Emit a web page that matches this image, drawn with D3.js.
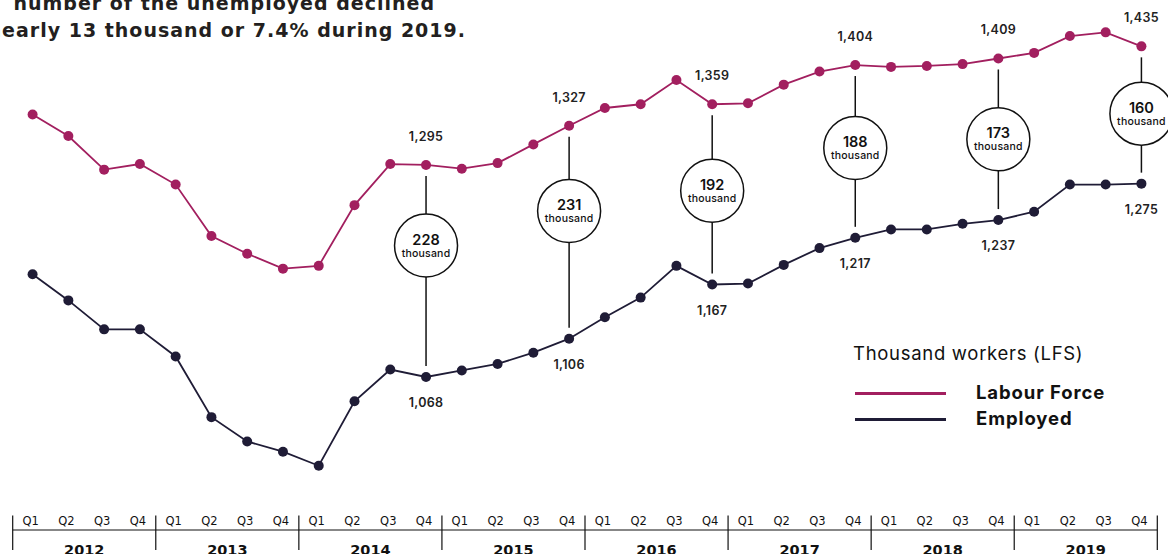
<!DOCTYPE html>
<html>
<head>
<meta charset="utf-8">
<script src="https://cdn.jsdelivr.net/npm/d3@7"></script>
<style>
body { margin: 0; background: #fff; }
svg { display: block; font-family: Inter, "DejaVu Sans", sans-serif; }
</style>
</head>
<body>
<svg id="main" width="1168" height="554"></svg>
<script>
var years = ["2012", "2013", "2014", "2015", "2016", "2017", "2018", "2019"];
var quarterNames = ["Q1", "Q2", "Q3", "Q4"];
// thousand workers
var labourForce = [1349, 1326, 1290, 1296, 1274, 1219, 1200, 1184,
	1187, 1252, 1296, 1295, 1291, 1297, 1317, 1337,
	1356, 1360, 1386, 1360, 1361, 1381, 1395, 1402,
	1400, 1401, 1403, 1409, 1415, 1433, 1437, 1422];
var employed = [1178, 1150, 1119, 1119, 1090, 1025, 999, 988,
	973, 1042, 1076, 1068, 1075, 1082, 1094, 1109,
	1132, 1153, 1187, 1167, 1168, 1188, 1206, 1217,
	1226, 1226, 1232, 1236, 1245, 1274, 1274, 1275];
var gapIndex = [11, 15, 19, 23, 27, 31];
var gapText = ["228", "231", "192", "188", "173", "160"];
var lfLabels = ["1,295", "1,327", "1,359", "1,404", "1,409", "1,435"];
var empLabels = ["1,068", "1,106", "1,167", "1,217", "1,237", "1,275"];
var bubblePos = [0.38, 0.4, 0.48, 0.48, 0.5, 0.49];

var lfColor = "#A21F5F";
var empColor = "#1F1C36";

var quarters = [];
years.forEach(function(y) {
	quarterNames.forEach(function(q) { quarters.push(y + " " + q); });
});

var svg = d3.select("#main");

var xYear = d3.scaleBand().domain(years).range([12.7, 1157.3]);
var x = d3.scaleBand().domain(quarters).range([12.7, 1157.3]);
var y = d3.scaleLinear().domain([1000, 1450]).range([440.5, 20.2]);
function px(i) { return x(quarters[i]) + x.bandwidth() / 2 + 2; }

// title (cut off at the top-left like the source)
var title = svg.append("g").attr("font-family", "'DejaVu Sans', sans-serif").attr("font-weight", "700")
	.attr("font-size", "19px").attr("letter-spacing", "1px").attr("fill", "#231F20").attr("text-anchor", "end");
title.append("text").attr("x", 435).attr("y", 10).text("number of the unemployed declined");
title.append("text").attr("x", 466).attr("y", 37).text("nearly 13 thousand or 7.4% during 2019.");

// gap annotations
var ann = svg.append("g");
gapIndex.forEach(function(idx, k) {
	var cx = px(idx);
	var yt = y(labourForce[idx]), yb = y(employed[idx]);
	var cy = yt + (yb - yt) * bubblePos[k];
	ann.append("line").attr("x1", cx).attr("x2", cx).attr("y1", yt + 11).attr("y2", yb - 11)
		.attr("stroke", "#111").attr("stroke-width", 1.5);
	ann.append("circle").attr("cx", cx).attr("cy", cy).attr("r", 31.5)
		.attr("fill", "#fff").attr("stroke", "#111").attr("stroke-width", 1.5);
	ann.append("text").attr("x", cx).attr("y", cy - 1).attr("text-anchor", "middle")
		.attr("font-size", "14.5px").attr("font-weight", "600").attr("fill", "#111").text(gapText[k]);
	ann.append("text").attr("x", cx).attr("y", cy + 11).attr("text-anchor", "middle")
		.attr("font-size", "10.5px").attr("font-weight", "500").attr("letter-spacing", "0.2px").attr("fill", "#111").text("thousand");
	ann.append("text").attr("x", cx).attr("y", yt - 24).attr("text-anchor", "middle")
		.attr("font-size", "12.5px").attr("font-weight", "600").attr("letter-spacing", "0.3px").attr("fill", "#222").text(lfLabels[k]);
	ann.append("text").attr("x", cx).attr("y", yb + 30).attr("text-anchor", "middle")
		.attr("font-size", "12.5px").attr("font-weight", "600").attr("letter-spacing", "0.3px").attr("fill", "#222").text(empLabels[k]);
});

// series
var line = d3.line().x(function(d, i) { return px(i); }).y(function(d) { return y(d); });
[[labourForce, lfColor], [employed, empColor]].forEach(function(s) {
	var g = svg.append("g");
	g.append("path").datum(s[0]).attr("d", line).attr("fill", "none").attr("stroke", s[1]).attr("stroke-width", 1.8);
	g.selectAll("circle").data(s[0]).join("circle")
		.attr("cx", function(d, i) { return px(i); })
		.attr("cy", function(d) { return y(d); })
		.attr("r", 5).attr("fill", s[1]);
});

// legend
var leg = svg.append("g");
leg.append("text").attr("x", 853).attr("y", 360).attr("font-size", "18.5px").attr("letter-spacing", "0.7px")
	.attr("fill", "#111").text("Thousand workers (LFS)");
[["Labour Force", lfColor, 393.5], ["Employed", empColor, 419.5]].forEach(function(l) {
	leg.append("line").attr("x1", 855).attr("x2", 946).attr("y1", l[2]).attr("y2", l[2])
		.attr("stroke", l[1]).attr("stroke-width", 3);
	leg.append("text").attr("x", 976).attr("y", l[2] + 5).attr("font-size", "18.5px").attr("font-weight", "700")
		.attr("letter-spacing", "0.9px").attr("fill", "#111").text(l[0]);
});

// axis: quarters over years
var axis = svg.append("g").attr("font-family", "'DejaVu Sans', sans-serif");
axis.append("line").attr("x1", xYear.range()[0]).attr("x2", xYear.range()[1]).attr("y1", 530).attr("y2", 530)
	.attr("stroke", "#111").attr("stroke-width", 1.2);
axis.selectAll(".sep").data(years.concat(["end"])).join("line")
	.attr("x1", function(d) { return d === "end" ? xYear.range()[1] : xYear(d); })
	.attr("x2", function(d) { return d === "end" ? xYear.range()[1] : xYear(d); })
	.attr("y1", 515.5).attr("y2", 550).attr("stroke", "#111").attr("stroke-width", 1.2);
axis.selectAll(".q").data(quarters).join("text")
	.attr("x", function(d) { return x(d) + x.bandwidth() / 2; })
	.attr("y", 525).attr("text-anchor", "middle").attr("font-size", "11.5px").attr("fill", "#111")
	.text(function(d) { return d.split(" ")[1]; });
axis.selectAll(".yr").data(years).join("text")
	.attr("x", function(d) { return xYear(d) + xYear.bandwidth() / 2; })
	.attr("y", 555).attr("text-anchor", "middle").attr("font-size", "14.5px").attr("font-weight", "700").attr("fill", "#111")
	.text(function(d) { return d; });
</script>
</body>
</html>
